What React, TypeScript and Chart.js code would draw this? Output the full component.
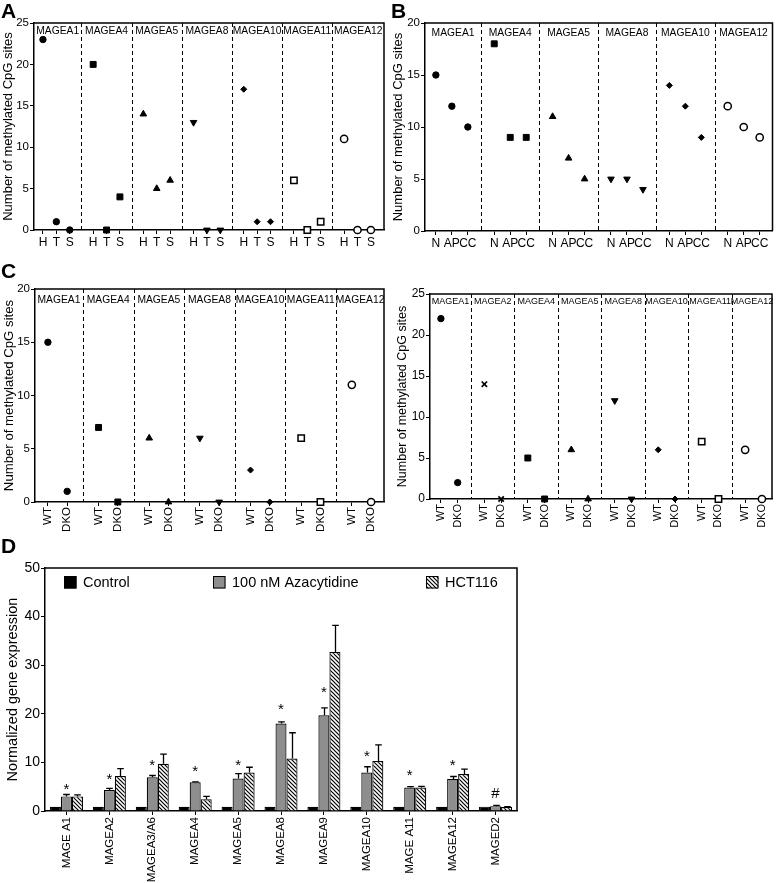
import React, { useEffect, useRef } from 'react';
import { Chart, registerables } from 'chart.js';

Chart.register(...registerables);

const FONT = '"Liberation Sans", Arial, Helvetica, sans-serif';
Chart.defaults.font.family = FONT;
Chart.defaults.color = '#000';

// ---------- Panel A ----------
const A_GENES = ['MAGEA1', 'MAGEA4', 'MAGEA5', 'MAGEA8', 'MAGEA10', 'MAGEA11', 'MAGEA12'];
const A_GROUPS = ['H', 'T', 'S'];
const A_VALUES = [
  [23, 1, 0],
  [20, 0, 4],
  [14, 5, 6],
  [13, 0, 0],
  [17, 1, 1],
  [6, 0, 1],
  [11, 0, 0],
];

// ---------- Panel B ----------
const B_GENES = ['MAGEA1', 'MAGEA4', 'MAGEA5', 'MAGEA8', 'MAGEA10', 'MAGEA12'];
const B_GROUPS = ['N', 'AP', 'CC'];
const B_VALUES = [
  [15, 12, 10],
  [18, 9, 9],
  [11, 7, 5],
  [5, 5, 4],
  [14, 12, 9],
  [12, 10, 9],
];

// ---------- Panel C (left) ----------
const C_GROUPS = ['WT', 'DKO'];
const C1_GENES = ['MAGEA1', 'MAGEA4', 'MAGEA5', 'MAGEA8', 'MAGEA10', 'MAGEA11', 'MAGEA12'];
const C1_VALUES = [
  [15, 1],
  [7, 0],
  [6, 0],
  [6, 0],
  [3, 0],
  [6, 0],
  [11, 0],
];

// ---------- Panel C (right) ----------
const C2_GENES = ['MAGEA1', 'MAGEA2', 'MAGEA4', 'MAGEA5', 'MAGEA8', 'MAGEA10', 'MAGEA11', 'MAGEA12'];
const C2_VALUES = [
  [22, 2],
  [14, 0],
  [5, 0],
  [6, 0],
  [12, 0],
  [6, 0],
  [7, 0],
  [6, 0],
];

const Y_TITLE = 'Number of methylated CpG sites';

// ---------- Panel D ----------
const D_CATEGORIES = ['MAGE A1', 'MAGEA2', 'MAGEA3/A6', 'MAGEA4', 'MAGEA5', 'MAGEA8', 'MAGEA9', 'MAGEA10', 'MAGE A11', 'MAGEA12', 'MAGED2'];
const D_SERIES = ['Control', '100 nM Azacytidine', 'HCT116'];
const D_CONTROL = [0.85, 0.85, 0.85, 0.85, 0.85, 0.85, 0.85, 0.85, 0.85, 0.85, 0.9];
const D_AZA = [3.0, 4.3, 6.95, 5.9, 6.7, 18.0, 19.7, 7.9, 4.85, 6.6, 1.0];
const D_AZA_ERR = [0.4, 0.35, 0.35, 0.1, 1.0, 0.35, 1.5, 1.2, 0.15, 0.5, 0.15];
const D_HCT = [3.0, 7.2, 9.7, 2.4, 7.9, 10.8, 32.7, 10.3, 4.85, 7.6, 0.8];
const D_HCT_ERR = [0.3, 1.5, 2.0, 0.6, 1.1, 5.3, 5.5, 3.3, 0.2, 1.0, 0.1];
const D_MARKS = ['*', '*', '*', '*', '*', '*', '*', '*', '*', '*', '#'];
const D_MARK_Y = [5.0, 7.0, 9.9, 8.6, 10.0, 21.4, 25.0, 11.7, 7.8, 9.9, 3.6];
const D_Y_TITLE = 'Normalized gene expression';

// marker styles per gene
const MARKERS: Record<string, any> = {
  MAGEA1: { pointStyle: 'circle', pointRadius: 3.2, pointBackgroundColor: '#000', pointBorderColor: '#000', pointBorderWidth: 1 },
  MAGEA2: { pointStyle: 'crossRot', pointRadius: 3.8, pointBackgroundColor: '#000', pointBorderColor: '#000', pointBorderWidth: 1.7 },
  MAGEA4: { pointStyle: 'rect', pointRadius: 4.2, pointBackgroundColor: '#000', pointBorderColor: '#000', pointBorderWidth: 1 },
  MAGEA5: { pointStyle: 'triangle', pointRadius: 3.8, pointBackgroundColor: '#000', pointBorderColor: '#000', pointBorderWidth: 1 },
  MAGEA8: { pointStyle: 'triangle', pointRotation: 180, pointRadius: 3.8, pointBackgroundColor: '#000', pointBorderColor: '#000', pointBorderWidth: 1 },
  MAGEA10: { pointStyle: 'rectRot', pointRadius: 3, pointBackgroundColor: '#000', pointBorderColor: '#000', pointBorderWidth: 1 },
  MAGEA11: { pointStyle: 'rect', pointRadius: 4.5, pointBackgroundColor: '#fff', pointBorderColor: '#000', pointBorderWidth: 1.5 },
  MAGEA12: { pointStyle: 'circle', pointRadius: 3.6, pointBackgroundColor: '#fff', pointBorderColor: '#000', pointBorderWidth: 1.5 },
};

type ScatterSpec = {
  genes: string[];
  groups: string[];
  values: number[][];
  step: number;
  xMin: number;
  xMax: number;
  yMax: number;
  yStep: number;
  padding: { left: number; top: number; right: number; bottom: number };
  yWidth: number;
  xHeight: number;
  titleSize: number;
  titlePad: number;
  yTickSize: number;
  xTickSize: number;
  geneSize: number;
  geneOffset: number;
  rotate: boolean;
};

function boxPlugin() {
  return {
    id: 'boxTopRight',
    afterDraw(chart: any) {
      const { ctx, chartArea } = chart;
      ctx.save();
      ctx.strokeStyle = '#000';
      ctx.lineWidth = 1.5;
      ctx.beginPath();
      ctx.moveTo(chartArea.left, chartArea.top);
      ctx.lineTo(chartArea.right, chartArea.top);
      ctx.lineTo(chartArea.right, chartArea.bottom);
      ctx.stroke();
      ctx.restore();
    },
  };
}

function scatterConfig(s: ScatterSpec): any {
  const n = s.groups.length;
  const posOf = (g: number, i: number) => g * s.step + i;
  const tickVals: number[] = [];
  const tickLabels: string[] = [];
  s.genes.forEach((_, g) => s.groups.forEach((lab, i) => { tickVals.push(posOf(g, i)); tickLabels.push(lab); }));
  const dividers: number[] = [];
  for (let g = 0; g < s.genes.length - 1; g++) dividers.push(g * s.step + (n - 1) + (s.step - (n - 1)) / 2);

  const datasets = s.genes.map((gene, g) => ({
    label: gene,
    data: s.values[g].map((v, i) => ({ x: posOf(g, i), y: v })),
    showLine: false,
    clip: false,
    ...MARKERS[gene],
  }));

  const groupPlugin = {
    id: 'groups',
    beforeDatasetsDraw(chart: any) {
      const { ctx, chartArea, scales } = chart;
      ctx.save();
      ctx.strokeStyle = '#000';
      ctx.lineWidth = 1;
      ctx.setLineDash([4, 3]);
      dividers.forEach((d) => {
        const x = Math.round(scales.x.getPixelForValue(d)) + 0.5;
        ctx.beginPath();
        ctx.moveTo(x, chartArea.top);
        ctx.lineTo(x, chartArea.bottom);
        ctx.stroke();
      });
      ctx.setLineDash([]);
      ctx.fillStyle = '#000';
      ctx.font = `${s.geneSize}px ${FONT}`;
      ctx.textAlign = 'center';
      ctx.textBaseline = 'middle';
      s.genes.forEach((gene, g) => {
        const l = g === 0 ? s.xMin : dividers[g - 1];
        const r = g === s.genes.length - 1 ? s.xMax : dividers[g];
        const cx = (scales.x.getPixelForValue(l) + scales.x.getPixelForValue(r)) / 2;
        ctx.fillText(gene, cx, chartArea.top + s.geneOffset);
      });
      ctx.restore();
    },
  };

  return {
    type: 'scatter',
    data: { datasets },
    options: {
      animation: false,
      responsive: false,
      layout: { padding: s.padding },
      plugins: { legend: { display: false }, tooltip: { enabled: false } },
      scales: {
        x: {
          type: 'linear',
          min: s.xMin,
          max: s.xMax,
          afterBuildTicks: (scale: any) => { scale.ticks = tickVals.map((v) => ({ value: v })); },
          afterFit: (scale: any) => { scale.height = s.xHeight; scale.paddingLeft = 0; scale.paddingRight = 0; },
          ticks: {
            autoSkip: false,
            callback: (_v: any, idx: number) => tickLabels[idx],
            font: { size: s.xTickSize },
            padding: 1,
            minRotation: s.rotate ? 90 : 0,
            maxRotation: s.rotate ? 90 : 0,
            color: '#000',
          },
          grid: { display: true, drawOnChartArea: false, drawTicks: true, tickLength: 4, color: '#000', lineWidth: 1 },
          border: { display: true, color: '#000', width: 1.5 },
        },
        y: {
          type: 'linear',
          min: 0,
          max: s.yMax,
          afterFit: (scale: any) => { scale.width = s.yWidth; scale.paddingTop = 0; scale.paddingBottom = 0; },
          ticks: { stepSize: s.yStep, font: { size: s.yTickSize }, padding: 1, color: '#000' },
          grid: { display: true, drawOnChartArea: false, drawTicks: true, tickLength: 4, color: '#000', lineWidth: 1 },
          border: { display: true, color: '#000', width: 1.5 },
          title: { display: true, text: Y_TITLE, font: { size: s.titleSize }, padding: { top: s.titlePad, bottom: 0 }, color: '#000' },
        },
      },
    },
    plugins: [groupPlugin, boxPlugin()],
  };
}

function makeHatch(): CanvasPattern | string {
  const size = 4;
  const c = document.createElement('canvas');
  c.width = size;
  c.height = size;
  const g = c.getContext('2d');
  if (!g) return '#fff';
  g.fillStyle = '#fff';
  g.fillRect(0, 0, size, size);
  g.strokeStyle = '#000';
  g.lineWidth = 1.2;
  g.beginPath();
  g.moveTo(0, 0); g.lineTo(size, size);
  g.moveTo(-1, size - 1); g.lineTo(1, size + 1);
  g.moveTo(size - 1, -1); g.lineTo(size + 1, 1);
  g.stroke();
  return g.createPattern(c, 'repeat') || '#fff';
}

const LEGEND_X = [64, 213, 426];

function barConfig(): any {
  const hatch = makeHatch();
  const colors = ['#000', '#8e8e8e', hatch];
  const datasets = [
    { label: D_SERIES[0], data: D_CONTROL, errors: null as any, backgroundColor: colors[0] },
    { label: D_SERIES[1], data: D_AZA, errors: D_AZA_ERR, backgroundColor: colors[1] },
    { label: D_SERIES[2], data: D_HCT, errors: D_HCT_ERR, backgroundColor: colors[2] },
  ].map((d) => ({ ...d, borderColor: '#000', borderWidth: 1.2, categoryPercentage: 0.77, barPercentage: 1.0 }));

  const errPlugin = {
    id: 'errbars',
    afterDatasetsDraw(chart: any) {
      const { ctx, scales } = chart;
      ctx.save();
      ctx.strokeStyle = '#000';
      ctx.lineWidth = 1.3;
      chart.data.datasets.forEach((ds: any, i: number) => {
        if (!ds.errors) return;
        const meta = chart.getDatasetMeta(i);
        meta.data.forEach((bar: any, j: number) => {
          const top = scales.y.getPixelForValue(ds.data[j]);
          const hi = scales.y.getPixelForValue(ds.data[j] + ds.errors[j]);
          const x = Math.round(bar.x) + 0.5;
          const cap = bar.width * 0.3;
          ctx.beginPath();
          ctx.moveTo(x, top);
          ctx.lineTo(x, hi);
          ctx.moveTo(x - cap, hi);
          ctx.lineTo(x + cap, hi);
          ctx.stroke();
        });
      });
      // significance marks above azacytidine bars
      const meta = chart.getDatasetMeta(1);
      ctx.fillStyle = '#000';
      ctx.textAlign = 'center';
      ctx.textBaseline = 'middle';
      meta.data.forEach((bar: any, j: number) => {
        const y = scales.y.getPixelForValue(D_MARK_Y[j]);
        const m = D_MARKS[j];
        ctx.font = `15px ${FONT}`;
        ctx.fillText(m, bar.x, m === '*' ? y + 3 : y);
      });
      ctx.restore();
    },
  };

  const legendPlugin = {
    id: 'customLegend',
    afterDraw(chart: any) {
      const { ctx } = chart;
      ctx.save();
      ctx.font = `14.5px ${FONT}`;
      ctx.textBaseline = 'middle';
      ctx.textAlign = 'left';
      chart.data.datasets.forEach((ds: any, i: number) => {
        const x = LEGEND_X[i];
        const y = 36;
        ctx.fillStyle = ds.backgroundColor;
        ctx.fillRect(x, y, 12.5, 12.5);
        ctx.strokeStyle = '#000';
        ctx.lineWidth = 1;
        ctx.strokeRect(x + 0.5, y + 0.5, 11.5, 11.5);
        ctx.fillStyle = '#000';
        ctx.fillText(ds.label, x + 19, y + 6.5);
      });
      ctx.restore();
    },
  };

  return {
    type: 'bar',
    data: { labels: D_CATEGORIES, datasets },
    options: {
      animation: false,
      responsive: false,
      layout: { padding: { left: 0, top: 28, right: 261, bottom: 0 } },
      plugins: { legend: { display: false }, tooltip: { enabled: false } },
      scales: {
        x: {
          type: 'category',
          afterFit: (scale: any) => { scale.height = 72; scale.paddingLeft = 0; scale.paddingRight = 0; },
          ticks: { autoSkip: false, minRotation: 90, maxRotation: 90, font: { size: 11.5 }, padding: 2, color: '#000' },
          grid: { display: true, offset: false, drawOnChartArea: false, drawTicks: true, tickLength: 4, color: '#000', lineWidth: 1 },
          border: { display: true, color: '#000', width: 1.5 },
        },
        y: {
          type: 'linear',
          min: 0,
          max: 50,
          afterFit: (scale: any) => { scale.width = 45; scale.paddingTop = 0; scale.paddingBottom = 0; },
          ticks: { stepSize: 10, font: { size: 14 }, padding: 1, color: '#000' },
          grid: { display: true, drawOnChartArea: false, drawTicks: true, tickLength: 4, color: '#000', lineWidth: 1 },
          border: { display: true, color: '#000', width: 1.5 },
          title: { display: true, text: D_Y_TITLE, font: { size: 14.5 }, padding: { top: 4, bottom: 0 }, color: '#000' },
        },
      },
    },
    plugins: [errPlugin, legendPlugin, boxPlugin()],
  };
}

function ChartBox(props: { left: number; top: number; width: number; height: number; make: () => any }) {
  const ref = useRef<HTMLCanvasElement>(null);
  useEffect(() => {
    if (!ref.current) return;
    const chart = new Chart(ref.current, props.make());
    return () => chart.destroy();
  }, []);
  const { left, top, width, height } = props;
  return (
    <div style={{ position: 'absolute', left, top, width, height }}>
      <canvas ref={ref} width={width} height={height} style={{ width, height, display: 'block' }} />
    </div>
  );
}

const letterStyle = (left: number, top: number): React.CSSProperties => ({
  position: 'absolute', left, top, fontFamily: FONT, fontWeight: 'bold', fontSize: 21, lineHeight: '21px', color: '#000',
});

export default function App() {
  return (
    <div style={{ position: 'absolute', left: 0, top: 0, width: 778, height: 883, background: '#fff', overflow: 'hidden' }}>
      <ChartBox left={0} top={0} width={390} height={260} make={() => scatterConfig({
        genes: A_GENES, groups: A_GROUPS, values: A_VALUES, step: 3.75, xMin: -0.67, xMax: 25.48,
        yMax: 25, yStep: 5, padding: { left: 0, top: 23, right: 3, bottom: 0 }, yWidth: 34, xHeight: 30,
        titleSize: 13, titlePad: 1, yTickSize: 11.5, xTickSize: 12, geneSize: 10.3, geneOffset: 8, rotate: false,
      })} />
      <ChartBox left={390} top={0} width={388} height={260} make={() => scatterConfig({
        genes: B_GENES, groups: B_GROUPS, values: B_VALUES, step: 3.65, xMin: -0.68, xMax: 21.05,
        yMax: 20, yStep: 5, padding: { left: 0, top: 23, right: 1, bottom: 0 }, yWidth: 35, xHeight: 29,
        titleSize: 13, titlePad: 1, yTickSize: 11.5, xTickSize: 12, geneSize: 10.3, geneOffset: 10, rotate: false,
      })} />
      <ChartBox left={0} top={260} width={390} height={280} make={() => scatterConfig({
        genes: C1_GENES, groups: C_GROUPS, values: C1_VALUES, step: 2.63, xMin: -0.67, xMax: 17.45,
        yMax: 20, yStep: 5, padding: { left: 0, top: 29, right: 2, bottom: 0 }, yWidth: 35, xHeight: 38,
        titleSize: 13.2, titlePad: 1, yTickSize: 11.5, xTickSize: 11.5, geneSize: 10.3, geneOffset: 11, rotate: true,
      })} />
      <ChartBox left={390} top={260} width={388} height={280} make={() => scatterConfig({
        genes: C2_GENES, groups: C_GROUPS, values: C2_VALUES, step: 2.59, xMin: -0.65, xMax: 19.73,
        yMax: 25, yStep: 5, padding: { left: 0, top: 34, right: 2, bottom: 0 }, yWidth: 40, xHeight: 41,
        titleSize: 12.5, titlePad: 5, yTickSize: 12, xTickSize: 11, geneSize: 9, geneOffset: 8, rotate: true,
      })} />
      <ChartBox left={0} top={540} width={778} height={343} make={barConfig} />
      <div style={letterStyle(1, 0)}>A</div>
      <div style={letterStyle(391, 0)}>B</div>
      <div style={letterStyle(1, 260)}>C</div>
      <div style={letterStyle(1, 535)}>D</div>
    </div>
  );
}
